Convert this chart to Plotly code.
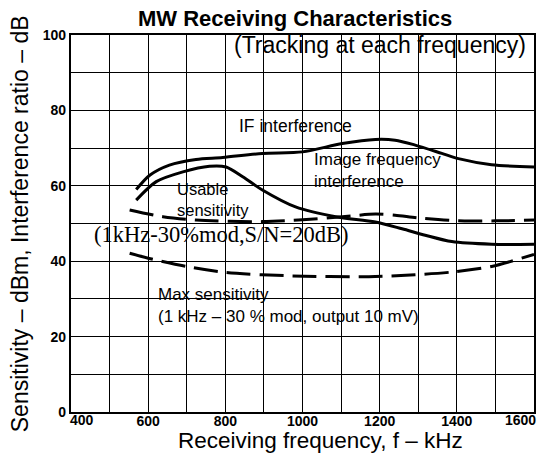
import plotly.graph_objects as go

# ---- data (kHz, dB) ----
if_freq = [569, 604, 655, 724, 793, 896, 1000, 1103, 1189, 1240, 1292, 1361, 1404, 1490, 1600]
if_db = [59.0, 62.8, 65.5, 67.0, 67.5, 68.6, 69.0, 71.2, 72.3, 72.1, 70.8, 68.6, 67.2, 65.6, 65.0]

img_freq = [569, 621, 690, 759, 802, 845, 896, 982, 1086, 1189, 1258, 1318, 1387, 1490, 1600]
img_db = [56.2, 61.1, 63.7, 65.2, 65.0, 62.4, 58.9, 54.4, 51.8, 50.4, 48.6, 46.9, 45.2, 44.5, 44.5]

usable_freq = [552, 638, 724, 896, 1000, 1103, 1189, 1240, 1300, 1404, 1500, 1600]
usable_db = [53.6, 51.8, 50.9, 50.5, 51.0, 51.8, 52.5, 52.2, 51.5, 50.7, 50.7, 50.9]

max_freq = [552, 600, 699, 802, 974, 1172, 1292, 1395, 1490, 1600]
max_db = [42.1, 40.8, 38.6, 37.0, 36.1, 35.9, 36.4, 37.2, 38.6, 41.8]

x_ticks = [600, 800, 1000, 1200, 1400]
x_first_tick = 400
x_last_tick = 1600
y_ticks = [0, 20, 40, 60, 80, 100]

L, R, T, B = 71, 7, 34.5, 42.5
W, H = 543, 455
PW, PH = W - L - R, H - T - B


def px(xp):
    return (xp - L) / PW


def py(yp):
    return (H - B - yp) / PH


fig = go.Figure()
line_style = dict(color="black", width=3, shape="spline", smoothing=0.8)
fig.add_trace(go.Scatter(x=if_freq, y=if_db, mode="lines", line=line_style, showlegend=False))
fig.add_trace(go.Scatter(x=img_freq, y=img_db, mode="lines", line=line_style, showlegend=False))
fig.add_trace(go.Scatter(x=usable_freq, y=usable_db, mode="lines",
                         line=dict(line_style, dash="24px,9px"), showlegend=False))
fig.add_trace(go.Scatter(x=max_freq, y=max_db, mode="lines",
                         line=dict(line_style, dash="24px,9px"), showlegend=False))

sans = "Liberation Sans, Arial, sans-serif"
serif = "Liberation Serif, Times New Roman, serif"
ann = []


def label(text, x, baseline, size, family=sans, anchor="left", bold=False):
    t = f"<b>{text}</b>" if bold else text
    ann.append(dict(x=px(x), y=py(baseline - 0.33 * size), xref="paper", yref="paper", text=t,
                    showarrow=False, font=dict(family=family, size=size, color="black"),
                    xanchor=anchor, yanchor="middle", align="left"))


def label2(line1, line2, x, b1, b2, size):
    ann.append(dict(x=px(x), y=py((b1 + b2) / 2 - 0.33 * size), xref="paper", yref="paper",
                    text=f"{line1}<br>{line2}", showarrow=False,
                    font=dict(family=sans, size=size, color="black"),
                    xanchor="left", yanchor="middle", align="left"))


label("MW Receiving Characteristics", 296, 25, 22, anchor="center", bold=True)
label("(Tracking at each frequency)", 381, 52, 23, anchor="center")
label("IF interference", 238, 132, 17.5)
label2("Image frequency", "interference", 313, 168, 183, 17)
label2("Usable", "sensitivity", 175, 197, 213, 16.5)
label("(1kHz-30%mod,S/N=20dB)", 222, 242, 22.5, family=serif, anchor="center")
label2("Max sensitivity", "(1 kHz – 30 % mod, output 10 mV)", 156, 303, 320, 17)

# axis titles
ann.append(dict(x=px(20), y=py(224), xref="paper", yref="paper", text="Sensitivity – dBm, Interference ratio – dB",
                showarrow=False, textangle=-90, font=dict(family=sans, size=23, color="black"),
                xanchor="center", yanchor="middle"))
ann.append(dict(x=px(322), y=py(441), xref="paper", yref="paper", text="Receiving frequency, f – kHz",
                showarrow=False, font=dict(family=sans, size=22.5, color="black"),
                xanchor="center", yanchor="middle"))

tick_font = dict(family=sans, size=14, color="black", weight="bold")
# end x tick labels, nudged inward as in the reference
ann.append(dict(x=x_first_tick, y=0, xref="x", yref="y", text=str(x_first_tick), showarrow=False,
                font=tick_font, xanchor="left", yanchor="middle", xshift=-3, yshift=-8))
ann.append(dict(x=x_last_tick, y=0, xref="x", yref="y", text=str(x_last_tick), showarrow=False,
                font=tick_font, xanchor="right", yanchor="middle", xshift=4, yshift=-8))

# white patches where the scanned grid is blanked behind the texts
boxes = [
    (229, 36, 533, 61),
    (227, 106, 420, 150),
    (150, 150, 448, 196),
    (170, 196, 255, 216),
    (308, 150, 450, 188),
    (74, 226, 360, 249),
    (148, 283, 500, 327),
]
shapes = [dict(type="rect", xref="paper", yref="paper", x0=px(a), x1=px(c), y0=py(d), y1=py(b),
               fillcolor="white", line=dict(width=0), layer="between") for a, b, c, d in boxes]

fig.update_layout(
    width=W, height=H,
    margin=dict(l=L, r=R, t=T, b=B),
    paper_bgcolor="white", plot_bgcolor="white",
    annotations=ann, shapes=shapes,
    xaxis=dict(range=[400, 1600], tickvals=x_ticks, ticktext=[str(v) for v in x_ticks],
               showgrid=True, gridcolor="black", gridwidth=1.4,
               minor=dict(dtick=100, showgrid=True, gridcolor="black", gridwidth=1.4, ticks=""),
               showline=True, linecolor="black", linewidth=2.4, mirror=True, ticks="",
               tickfont=tick_font, zeroline=False, ticklabelstandoff=-5),
    yaxis=dict(range=[0, 100], tickvals=y_ticks, ticktext=[str(v) for v in y_ticks],
               showgrid=True, gridcolor="black", gridwidth=1.4,
               minor=dict(dtick=10, showgrid=True, gridcolor="black", gridwidth=1.4, ticks=""),
               showline=True, linecolor="black", linewidth=2.4, mirror=True, ticks="",
               tickfont=tick_font, zeroline=False),
)

fig.write_html("out.html", config={"displayModeBar": False},
               post_script="document.body.style.margin='0';")
